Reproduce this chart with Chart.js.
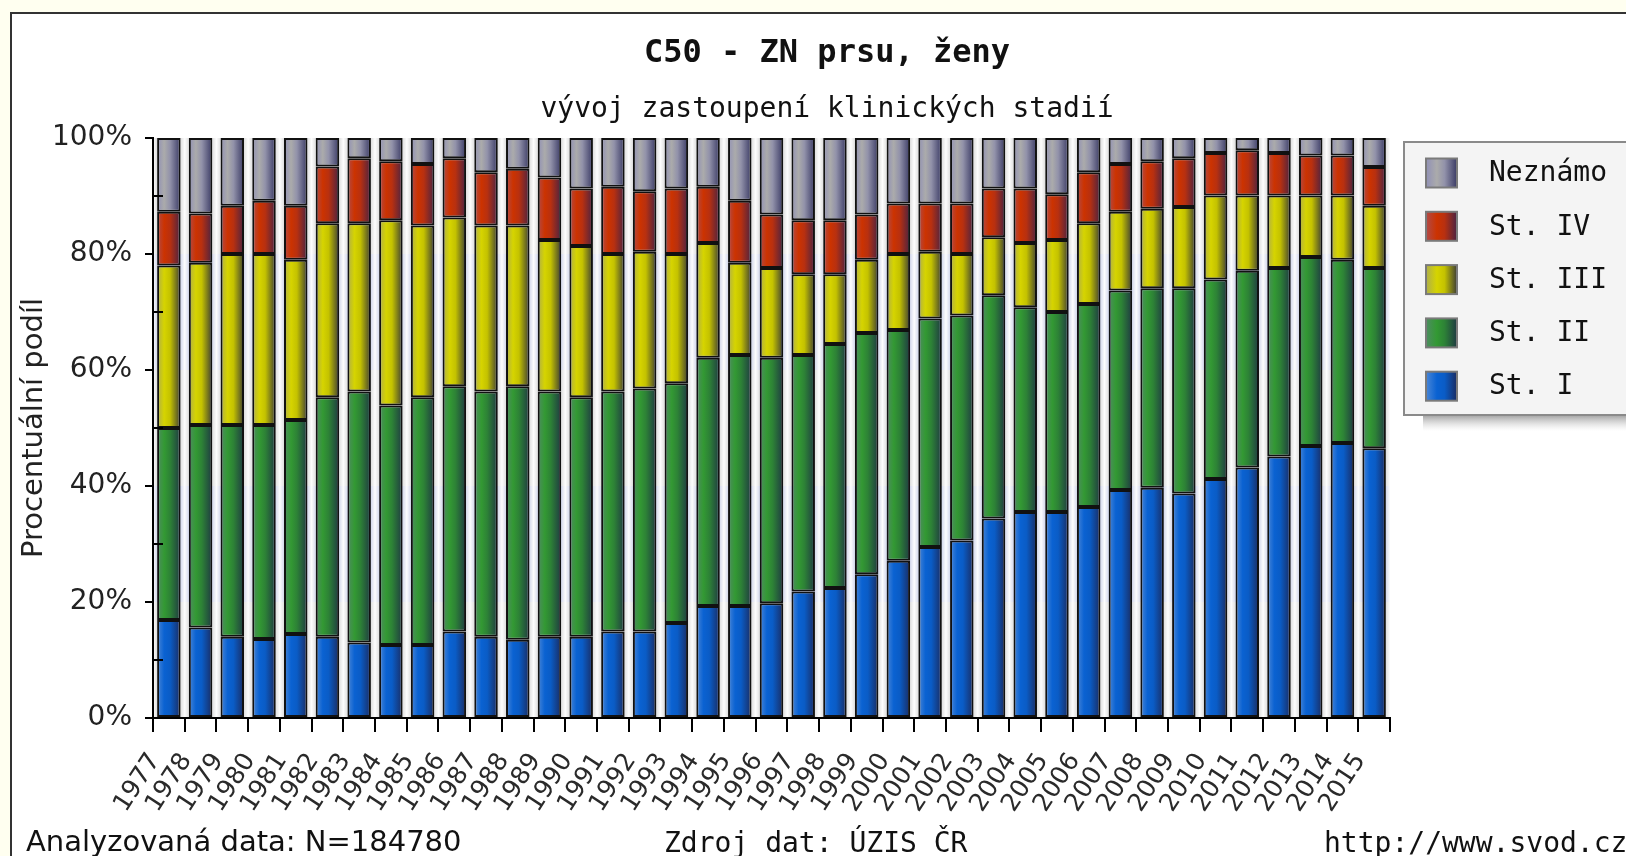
<!DOCTYPE html>
<html>
<head>
<meta charset="utf-8">
<script src="https://cdn.jsdelivr.net/npm/chart.js@4.4.1/dist/chart.umd.min.js"></script>
<style>
html, body { margin: 0; padding: 0; background: #fffff0; overflow: hidden; }
#wrap { width: 1626px; height: 856px; }
</style>
</head>
<body>
<div id="wrap"><canvas id="graf" width="1626" height="856"></canvas></div>
<script>
// roky a podíly stadií (v %)
const roky = ['1977','1978','1979','1980','1981','1982','1983','1984','1985','1986',
              '1987','1988','1989','1990','1991','1992','1993','1994','1995','1996',
              '1997','1998','1999','2000','2001','2002','2003','2004','2005','2006',
              '2007','2008','2009','2010','2011','2012','2013','2014','2015'];

const stI   = [16.9,15.6,14.0,13.6,14.5,14.0,13.0,12.6,12.6,14.9,
               14.0,13.5,14.0,14.0,14.9,14.9,16.4,19.3,19.3,19.8,
               21.8,22.4,24.8,27.1,29.5,30.6,34.4,35.5,35.5,36.4,
               39.3,39.7,38.7,41.2,43.2,45.1,46.9,47.4,46.5];
const stII  = [33.1,34.9,36.5,36.9,36.9,41.3,43.3,41.3,42.7,42.3,
               42.3,43.7,42.3,41.3,41.4,41.9,41.3,42.8,43.3,42.3,
               40.8,42.1,41.6,39.8,39.4,38.8,38.5,35.3,34.5,35.0,
               34.4,34.4,35.4,34.4,33.9,32.5,32.6,31.6,31.1];
const stIII = [28.0,28.0,29.5,29.5,27.6,30.0,29.0,31.9,29.6,29.1,
               28.6,27.7,26.1,26.1,23.7,23.6,22.3,19.8,15.9,15.5,
               13.9,12.0,12.6,13.1,11.5,10.6,10.0,11.1,12.4,13.9,
               13.6,13.7,14.0,14.5,13.0,12.5,10.6,11.1,10.7];
const stIV  = [9.3,8.5,8.3,9.2,9.3,9.8,11.2,10.2,10.6,10.2,
               9.2,9.8,10.8,9.9,11.6,10.4,11.3,9.7,10.7,9.2,
               9.3,9.3,7.8,8.7,8.3,8.7,8.4,9.4,7.9,8.8,
               8.2,8.2,8.4,7.3,7.8,7.3,6.9,6.9,6.7];
const neznamo = [12.7,13.0,11.7,10.8,11.7,4.9,3.5,4.0,4.5,3.5,
                 5.9,5.3,6.8,8.7,8.4,9.2,8.7,8.4,10.8,13.2,
                 14.2,14.2,13.2,11.3,11.3,11.3,8.7,8.7,9.7,5.9,
                 4.5,4.0,3.5,2.6,2.1,2.6,3.0,3.0,5.0];

const popisky = ['St. I', 'St. II', 'St. III', 'St. IV', 'Neznámo'];
const yTicky = [0, 20, 40, 60, 80, 100];

// barevné přechody sloupců (zleva doprava)
const prechody = [
    ['#4a86d6', '#0a62d2', '#0a5cc6', '#1a2c62'],
    ['#4e8c62', '#339933', '#2d8236', '#1f3a42'],
    ['#aeae4c', '#d6d400', '#c4c200', '#3e3e34'],
    ['#b04a4a', '#cc3300', '#b83010', '#4a2242'],
    ['#9090b6', '#ababab', '#9292aa', '#3a3a64']
];

const SIRKA_SLOUPCE = 0.74;
const MONO = '"DejaVu Sans Mono", "Liberation Mono", monospace';
const SANS = '"DejaVu Sans", sans-serif';

function vypln(i) {
    return function(context) {
        const chart = context.chart;
        const { ctx, chartArea, scales } = chart;
        if (!chartArea || context.type !== 'data') return prechody[i][1];
        const x = scales.x.getPixelForValue(context.dataIndex);
        const w = scales.x.width / roky.length * SIRKA_SLOUPCE;
        const g = ctx.createLinearGradient(x - w / 2, 0, x + w / 2, 0);
        g.addColorStop(0, prechody[i][0]);
        g.addColorStop(0.3, prechody[i][1]);
        g.addColorStop(0.55, prechody[i][2]);
        g.addColorStop(1, prechody[i][3]);
        return g;
    };
}

const datasety = [stI, stII, stIII, stIV, neznamo].map((data, i) => ({
    label: popisky[i],
    data: data,
    backgroundColor: vypln(i),
    borderColor: '#111',
    borderWidth: 2,
    borderSkipped: false
}));

// pozadí, rámeček, pruhy v ploše grafu
const pozadiPlugin = {
    id: 'pozadi',
    beforeDraw(chart) {
        const { ctx, chartArea: a, scales } = chart;
        ctx.save();
        ctx.fillStyle = '#fffff0';
        ctx.fillRect(0, 0, chart.width, chart.height);
        ctx.fillStyle = '#ffffff';
        ctx.fillRect(11, 13, chart.width, chart.height);
        ctx.strokeStyle = '#333';
        ctx.lineWidth = 2;
        ctx.strokeRect(11, 13, chart.width + 10, chart.height + 10);

        // vodorovné pásy
        for (let i = 0; i < yTicky.length - 1; i++) {
            const y0 = scales.y.getPixelForValue(yTicky[i]);
            const y1 = scales.y.getPixelForValue(yTicky[i + 1]);
            ctx.fillStyle = (i % 2 === 1) ? '#d5d9ec' : '#e0e0e0';
            ctx.fillRect(a.left, y1, a.right - a.left, y0 - y1);
        }
        // světlé proužky mezi sloupci
        const krok = scales.x.width / roky.length;
        for (let i = 0; i <= roky.length; i++) {
            const x = a.left + i * krok;
            const g = ctx.createLinearGradient(x - 4, 0, x + 4, 0);
            g.addColorStop(0, 'rgba(255,255,255,0)');
            g.addColorStop(0.5, 'rgba(255,255,255,0.95)');
            g.addColorStop(1, 'rgba(255,255,255,0)');
            ctx.fillStyle = g;
            ctx.fillRect(x - 4, a.top, 8, a.bottom - a.top);
        }
        ctx.restore();
    },
    afterDraw(chart) {
        const { ctx, chartArea: a, scales } = chart;
        ctx.save();
        // vedlejší značky osy y (dovnitř)
        ctx.strokeStyle = '#000';
        ctx.lineWidth = 2;
        for (let i = 0; i < yTicky.length - 1; i++) {
            const y = scales.y.getPixelForValue((yTicky[i] + yTicky[i + 1]) / 2);
            ctx.beginPath();
            ctx.moveTo(a.left, y);
            ctx.lineTo(a.left + 10, y);
            ctx.stroke();
        }

        // nadpisy
        ctx.fillStyle = '#111';
        ctx.textAlign = 'center';
        ctx.textBaseline = 'alphabetic';
        ctx.font = 'bold 32px ' + MONO;
        ctx.fillText('C50 - ZN prsu, ženy', 827, 62);
        ctx.font = '28px ' + MONO;
        ctx.fillText('vývoj zastoupení klinických stadií', 827, 117);

        // texty dole
        ctx.textAlign = 'left';
        ctx.font = '29px ' + SANS;
        ctx.fillText('Analyzovaná data: N=184780', 26, 851);
        ctx.font = '28px ' + MONO;
        ctx.fillText('Zdroj dat: ÚZIS ČR', 664, 852);
        ctx.fillText('http://www.svod.cz', 1324, 852);

        // legenda
        const lx = 1404, ly = 142, lh = 273;
        const stin = ctx.createLinearGradient(0, ly + lh, 0, ly + lh + 16);
        stin.addColorStop(0, 'rgba(120,120,120,0.7)');
        stin.addColorStop(1, 'rgba(200,200,200,0)');
        ctx.fillStyle = stin;
        ctx.fillRect(lx + 19, ly + lh, chart.width, 16);
        ctx.fillStyle = '#f4f4f4';
        ctx.fillRect(lx, ly, chart.width, lh);
        ctx.strokeStyle = '#8a8a8a';
        ctx.lineWidth = 2;
        ctx.strokeRect(lx, ly, chart.width, lh);

        ctx.font = '28px ' + MONO;
        ctx.textBaseline = 'middle';
        for (let k = 0; k < popisky.length; k++) {
            const i = popisky.length - 1 - k;
            const cy = 173 + k * 53.3;
            const sx = 1426, sw = 31, sh = 29;
            const g = ctx.createLinearGradient(sx, 0, sx + sw, 0);
            g.addColorStop(0, prechody[i][0]);
            g.addColorStop(0.35, prechody[i][1]);
            g.addColorStop(0.6, prechody[i][2]);
            g.addColorStop(1, prechody[i][3]);
            ctx.fillStyle = g;
            ctx.fillRect(sx, cy - sh / 2, sw, sh);
            ctx.strokeStyle = '#7a7a7a';
            ctx.lineWidth = 2;
            ctx.strokeRect(sx, cy - sh / 2, sw, sh);
            ctx.fillStyle = '#111';
            ctx.fillText(popisky[i], 1489, cy + 1);
        }
        ctx.restore();
    }
};

new Chart(document.getElementById('graf'), {
    type: 'bar',
    data: { labels: roky, datasets: datasety },
    options: {
        responsive: false,
        animation: false,
        layout: { padding: { left: 0, right: 236, top: 138, bottom: 0 } },
        datasets: { bar: { categoryPercentage: 1, barPercentage: SIRKA_SLOUPCE } },
        plugins: {
            legend: { display: false },
            title: { display: false },
            tooltip: { enabled: false }
        },
        scales: {
            x: {
                stacked: true,
                afterFit: s => { s.height = 138; },
                grid: { display: true, drawOnChartArea: false, offset: true, tickLength: 14, color: '#000', lineWidth: 2 },
                border: { display: true, color: '#000', width: 2 },
                ticks: {
                    autoSkip: false,
                    minRotation: 57,
                    maxRotation: 57,
                    labelOffset: -14,
                    padding: 16,
                    color: '#2a2a2a',
                    font: { family: SANS, size: 25 }
                }
            },
            y: {
                stacked: true,
                min: 0,
                max: 100,
                afterFit: s => { s.width = 153; },
                grid: { display: true, drawOnChartArea: false, tickLength: 8, color: '#000', lineWidth: 2 },
                border: { display: true, color: '#000', width: 2 },
                ticks: {
                    stepSize: 20,
                    padding: 13,
                    color: '#222',
                    font: { family: SANS, size: 28 },
                    callback: v => v + '%'
                },
                title: {
                    display: true,
                    text: 'Procentuální podíl',
                    color: '#222',
                    font: { family: SANS, size: 29 },
                    padding: { top: 17, bottom: 0 }
                }
            }
        }
    },
    plugins: [pozadiPlugin]
});
</script>
</body>
</html>
